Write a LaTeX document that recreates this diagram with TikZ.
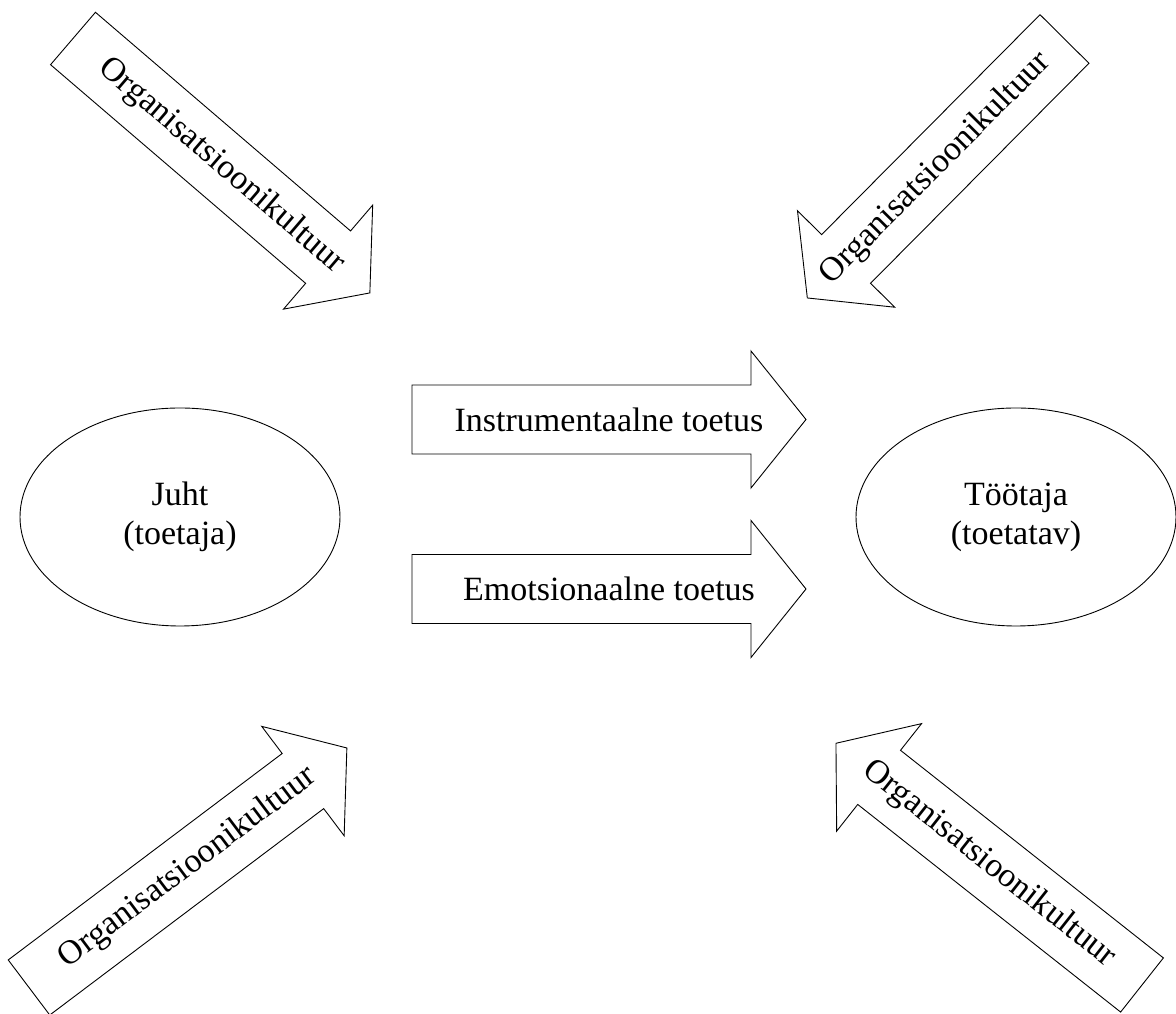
\documentclass[tikz,border=0pt]{standalone}
\usepackage{fontspec}
\setmainfont{Liberation Serif}
\usetikzlibrary{shapes.geometric}

\tikzset{
  noolejoon/.style={draw=black, line width=0.9pt, line join=miter},
  silt/.style={font=\fontsize{34}{39}\selectfont, inner sep=0pt, align=center},
  ovaal/.style={draw=black, line width=0.9pt, ellipse, minimum width=320pt, minimum height=218pt, font=\fontsize{34}{39}\selectfont, align=center}
}

% #1 nimi, #2 saba keskpunkt, #3 suund, #4 pikkus, #5 teksti nurk, #6 tekst
\newcommand{\plokknool}[6]{%
  \begin{scope}[shift={#2}, rotate=#3]
    \draw[noolejoon] (0,-34.5) -- ({#4-55},-34.5) -- ({#4-55},-68.5) -- (#4,0)
      -- ({#4-55},68.5) -- ({#4-55},34.5) -- (0,34.5) -- cycle;
    \node[silt, rotate=#5] (#1) at ({#4/2},0) {#6};
  \end{scope}}

\begin{document}
\begin{tikzpicture}[x=1pt, y=1pt]
\useasboundingbox (0,0) rectangle (1176,1014);

% juht ja tootaja
\node[ovaal] (juht) at (180,497) {Juht\\(toetaja)};
\node[ovaal] (tootaja) at (1016,497) {Töötaja\\(toetatav)};

% toetuse liigid
\plokknool{instr}{(412,594.5)}{0}{394}{0}{Instrumentaalne toetus}
\plokknool{emots}{(412,425)}{0}{394}{0}{Emotsionaalne toetus}

% organisatsioonikultuur nurkades
\plokknool{kultvy}{(73,975.5)}{-40.6}{391}{-40.6}{Organisatsioonikultuur}
\plokknool{kultpy}{(1064.5,975)}{-134.8}{365}{45.2}{Organisatsioonikultuur}
\plokknool{kultva}{(29,26.5)}{37}{398}{37}{Organisatsioonikultuur}
\plokknool{kultpa}{(1142,29)}{141.7}{390}{-38.3}{Organisatsioonikultuur}
\end{tikzpicture}
\end{document}
